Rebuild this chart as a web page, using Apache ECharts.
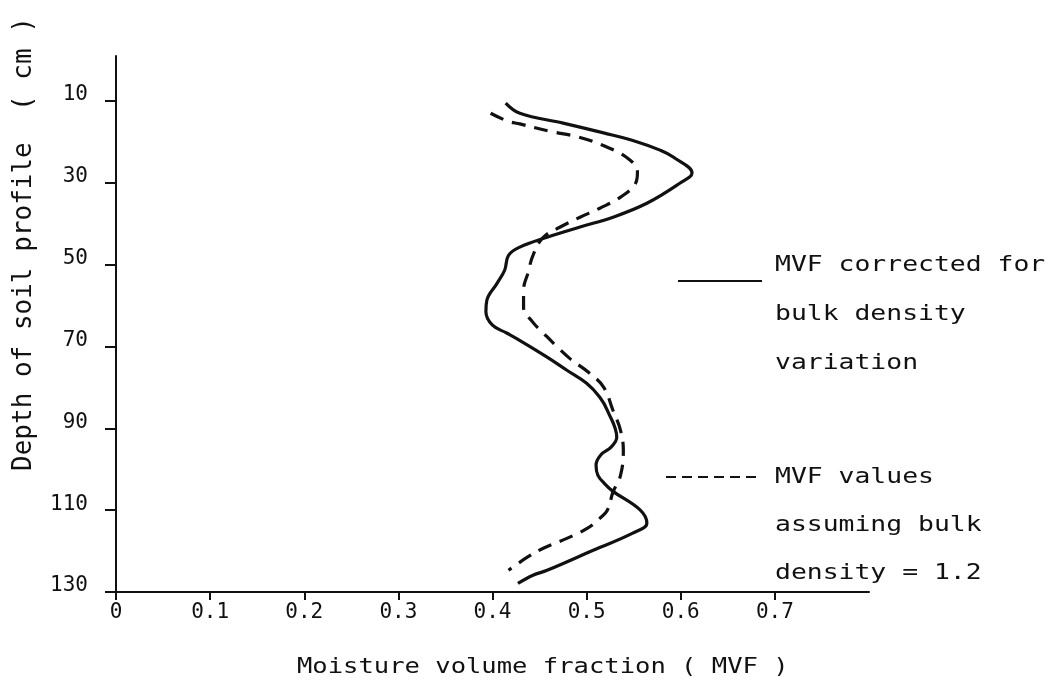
<!DOCTYPE html>
<html>
<head>
<meta charset="utf-8">
<script src="https://cdn.jsdelivr.net/npm/echarts@6/dist/echarts.min.js"></script>
<style>html,body{margin:0;padding:0;background:#fff;}#c{width:1048px;height:685px;}</style>
</head>
<body>
<div id="c"></div>
<script>
// Depth (cm) and MVF for the solid curve (corrected for bulk density variation)
const solidDepth = [10.5, 13.0, 15.4, 17.8, 20.0, 22.0, 23.7, 27.6, 30.1, 35.0, 38.4, 40.8, 43.3, 45.7, 47.7, 51.3, 54.5, 58.7, 61.5, 64.8, 66.7, 68.8, 72.6, 75.8, 79.0, 82.4, 85.6, 92.2, 94.6, 96.5, 99.0, 101.5, 103.5, 105.4, 110.0, 113.2, 115.6, 119.8, 124.7, 125.9, 127.9];
const solidMVF   = [0.414, 0.429, 0.475, 0.518, 0.554, 0.578, 0.592, 0.612, 0.599, 0.564, 0.528, 0.493, 0.458, 0.429, 0.417, 0.413, 0.405, 0.394, 0.393, 0.400, 0.415, 0.431, 0.458, 0.479, 0.500, 0.514, 0.522, 0.532, 0.526, 0.515, 0.510, 0.512, 0.519, 0.528, 0.557, 0.564, 0.549, 0.507, 0.458, 0.443, 0.427];
// Depth (cm) and MVF for the dashed curve (assuming bulk density = 1.2)
const dashedDepth = [13.0, 14.9, 15.6, 17.4, 18.8, 21.3, 24.4, 27.4, 30.1, 33.5, 36.2, 38.4, 40.8, 43.3, 47.7, 51.8, 56.2, 60.4, 64.1, 66.7, 69.7, 72.9, 76.3, 79.9, 85.6, 90.5, 95.4, 101.5, 105.6, 110.0, 112.0, 114.4, 116.9, 119.3, 121.5, 124.7];
const dashedMVF   = [0.398, 0.416, 0.429, 0.461, 0.491, 0.522, 0.546, 0.554, 0.552, 0.536, 0.514, 0.493, 0.472, 0.454, 0.443, 0.438, 0.433, 0.433, 0.443, 0.454, 0.467, 0.482, 0.502, 0.518, 0.528, 0.536, 0.539, 0.536, 0.528, 0.522, 0.514, 0.501, 0.479, 0.454, 0.437, 0.417];
// Tick values
const depthTicks = [10, 30, 50, 70, 90, 110, 130];
const mvfTicks = [0, 0.1, 0.2, 0.3, 0.4, 0.5, 0.6, 0.7];
// Texts
const xTitle = 'Moisture volume fraction ( MVF )';
const yTitle = 'Depth of soil profile  ( cm )';
const legendSolid = ['MVF corrected for', 'bulk density', 'variation'];
const legendDashed = ['MVF values', 'assuming bulk', 'density = 1.2'];

const ink = '#111';
const mono = 'DejaVu Sans Mono';
const chart = echarts.init(document.getElementById('c'), null, {renderer: 'canvas'});

const solidData = solidDepth.map((d, i) => [solidMVF[i], d]);
const dashedData = dashedDepth.map((d, i) => [dashedMVF[i], d]);

const graphics = [];
graphics.push({type: 'text', x: 24, y: 244, rotation: Math.PI / 2,
  style: {text: yTitle, font: '26px "' + mono + '"', fill: ink, textAlign: 'center', textVerticalAlign: 'middle'}});
graphics.push({type: 'text', x: 297, y: 667, scaleX: 1.16,
  style: {text: xTitle, font: '22px "' + mono + '"', fill: ink, textAlign: 'left', textVerticalAlign: 'middle'}});
legendSolid.forEach((t, i) => graphics.push({type: 'text', x: 775, y: 265 + i * 49, scaleX: 1.2,
  style: {text: t, font: '22px "' + mono + '"', fill: ink, textAlign: 'left', textVerticalAlign: 'middle'}}));
legendDashed.forEach((t, i) => graphics.push({type: 'text', x: 775, y: 477 + i * 48, scaleX: 1.2,
  style: {text: t, font: '22px "' + mono + '"', fill: ink, textAlign: 'left', textVerticalAlign: 'middle'}}));
graphics.push({type: 'line', shape: {x1: 678, y1: 281, x2: 762, y2: 281}, style: {stroke: ink, lineWidth: 2}});
graphics.push({type: 'line', shape: {x1: 666, y1: 477, x2: 756, y2: 477}, style: {stroke: ink, lineWidth: 2, lineDash: [10, 6]}});

chart.setOption({
  backgroundColor: '#fff',
  animation: false,
  grid: {left: 116, right: 179, top: 56, bottom: 93, containLabel: false},
  xAxis: {
    type: 'value', min: 0, max: 0.8, position: 'bottom',
    axisLine: {show: true, onZero: false, lineStyle: {color: ink, width: 2}},
    axisTick: {show: true, inside: false, length: 8, customValues: mvfTicks, lineStyle: {color: ink, width: 2}},
    axisLabel: {show: true, customValues: mvfTicks, margin: 10, color: ink, fontFamily: mono, fontSize: 21,
      formatter: v => v === 0 ? '0' : v.toFixed(1)},
    splitLine: {show: false}
  },
  yAxis: {
    type: 'value', min: -1, max: 130, inverse: true,
    axisLine: {show: true, onZero: false, lineStyle: {color: ink, width: 2}},
    axisTick: {show: true, inside: false, length: 11, customValues: depthTicks, lineStyle: {color: ink, width: 2}},
    axisLabel: {show: true, customValues: depthTicks, margin: 28, color: ink, fontFamily: mono, fontSize: 21,
      verticalAlign: 'bottom', lineHeight: 12},
    splitLine: {show: false}
  },
  series: [
    {name: 'MVF corrected for bulk density variation', type: 'line', data: solidData, smooth: 0.4,
      symbol: 'none', lineStyle: {color: ink, width: 3.2}},
    {name: 'MVF values assuming bulk density = 1.2', type: 'line', data: dashedData, smooth: 0.4,
      symbol: 'none', lineStyle: {color: ink, width: 3.2, type: [14, 9]}}
  ],
  graphic: graphics
});
</script>
</body>
</html>
